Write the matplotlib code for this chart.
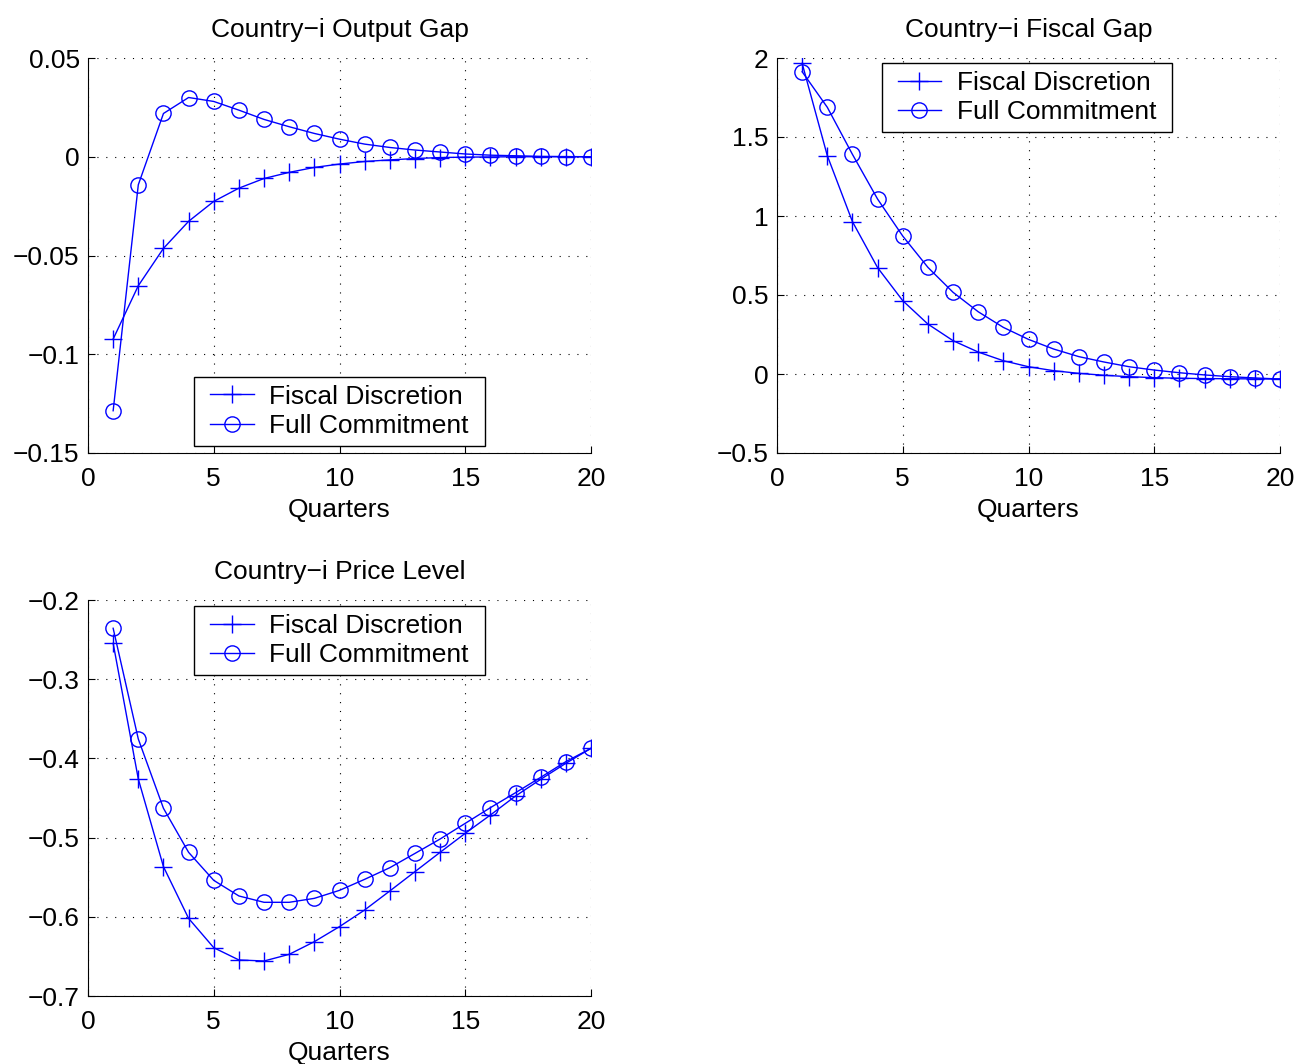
import matplotlib
matplotlib.use("Agg")
import matplotlib.pyplot as plt
from matplotlib.path import Path

plt.rcParams["font.family"] = ["Liberation Sans", "DejaVu Sans"]

quarters = list(range(1, 21))

# Country-i output gap
gap_disc = [-0.0923, -0.0653, -0.0464, -0.0327, -0.0226, -0.0159, -0.0110, -0.0079,
            -0.0054, -0.0037, -0.0024, -0.0016, -0.0009, -0.0004, -0.0002, -0.0001,
            0.0, 0.0, 0.0, 0.0]
gap_comm = [-0.1286, -0.0142, 0.0219, 0.0300, 0.0280, 0.0236, 0.0189, 0.0152,
            0.0118, 0.0089, 0.0064, 0.0047, 0.0034, 0.0024, 0.0014, 0.0008,
            0.0005, 0.0002, 0.0001, 0.0]

# Country-i fiscal gap
fis_disc = [1.966, 1.382, 0.964, 0.673, 0.464, 0.316, 0.211, 0.139, 0.084, 0.046,
            0.021, 0.004, -0.008, -0.017, -0.023, -0.027, -0.029, -0.030, -0.031, -0.032]
fis_comm = [1.913, 1.688, 1.390, 1.107, 0.873, 0.675, 0.517, 0.394, 0.295, 0.219,
            0.158, 0.110, 0.076, 0.046, 0.025, 0.008, -0.006, -0.017, -0.025, -0.032]

# Country-i price level
pr_disc = [-0.2547, -0.426, -0.5367, -0.602, -0.639, -0.6545, -0.6558, -0.6474,
           -0.6314, -0.6124, -0.5914, -0.5674, -0.543, -0.5186, -0.4946, -0.4715,
           -0.4475, -0.4264, -0.4062, -0.3873]
pr_comm = [-0.2357, -0.3755, -0.463, -0.5186, -0.554, -0.5737, -0.5817, -0.5817,
           -0.5767, -0.5666, -0.5527, -0.538, -0.520, -0.5018, -0.482, -0.4622,
           -0.4433, -0.4239, -0.4041, -0.3873]

xticks = [0, 5, 10, 15, 20]
gap_ticks = [0.05, 0, -0.05, -0.1, -0.15]
gap_labels = ["0.05", "0", "\u22120.05", "\u22120.1", "\u22120.15"]
fis_ticks = [2, 1.5, 1, 0.5, 0, -0.5]
fis_labels = ["2", "1.5", "1", "0.5", "0", "\u22120.5"]
pr_ticks = [-0.2, -0.3, -0.4, -0.5, -0.6, -0.7]
pr_labels = ["\u22120.2", "\u22120.3", "\u22120.4", "\u22120.5", "\u22120.6", "\u22120.7"]

fs = 19
fig = plt.figure(figsize=(12.98, 10.64), dpi=100)
w = 503 / 1298
ax1 = fig.add_axes([88 / 1298, 1 - 453 / 1064, w, 395 / 1064])
ax2 = fig.add_axes([777 / 1298, 1 - 453 / 1064, w, 395 / 1064])
ax3 = fig.add_axes([88 / 1298, 1 - 996 / 1064, w, 396 / 1064])


def wide_box(x0, y0, width, height, mutation_size):
    # legend frame with extra room left and right only
    dx = 0.3 * mutation_size
    x1 = x0 + width + dx
    x0 = x0 - dx
    y1 = y0 + height
    return Path([(x0, y0), (x1, y0), (x1, y1), (x0, y1), (x0, y0)], closed=True)


def panel(ax, disc, comm, title, yticks, ylabels, loc, anchor):
    ax.plot(quarters, disc, color="blue", lw=1.0, marker="+", ms=13, mew=1.0,
            label="Fiscal Discretion")
    ax.plot(quarters, comm, color="blue", lw=1.0, marker="o", ms=11, mew=1.0,
            mfc="none", label="Full Commitment")
    ax.set_xlim(0, 20)
    ax.set_ylim(min(yticks), max(yticks))
    ax.set_xticks(xticks)
    ax.set_yticks(yticks)
    ax.set_yticklabels(ylabels)
    ax.tick_params(direction="in", length=5, labelsize=fs, pad=6)
    ax.tick_params(axis="x", pad=10)
    ax.spines["top"].set_visible(False)
    ax.spines["right"].set_visible(False)
    ax.grid(True, color="black", lw=0.8, linestyle=(0, (1, 7)))
    ax.set_title(title, fontsize=fs, pad=15)
    ax.set_xlabel("Quarters", fontsize=fs, labelpad=5)
    leg = ax.legend(loc=loc, bbox_to_anchor=anchor, fontsize=fs, fancybox=False,
                    edgecolor="black", framealpha=1, handlelength=1.65,
                    borderpad=0.3, labelspacing=0.2, handletextpad=0.6,
                    borderaxespad=0)
    leg.get_frame().set_boxstyle(wide_box)
    leg.get_frame().set_linewidth(1.0)


panel(ax1, gap_disc, gap_comm, "Country\u2212i Output Gap", gap_ticks, gap_labels,
      "lower center", (0.5, 0.018))
panel(ax2, fis_disc, fis_comm, "Country\u2212i Fiscal Gap", fis_ticks, fis_labels,
      "upper center", (0.497, 0.987))
panel(ax3, pr_disc, pr_comm, "Country\u2212i Price Level", pr_ticks, pr_labels,
      "upper center", (0.5, 0.985))

fig.savefig("out.png", dpi=100)
